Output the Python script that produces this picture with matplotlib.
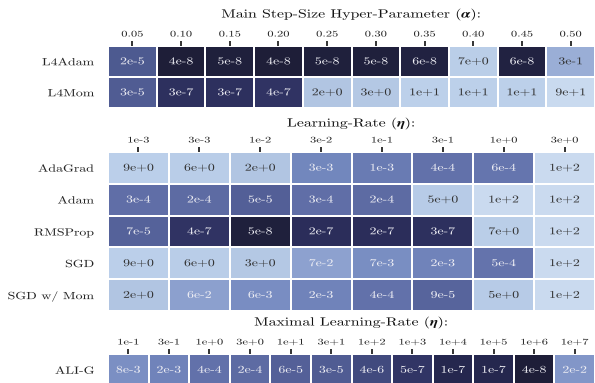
import numpy as np
import matplotlib
matplotlib.use("Agg")
import matplotlib.pyplot as plt
from matplotlib.colors import LinearSegmentedColormap, Normalize
from matplotlib.patheffects import AbstractPathEffect
from matplotlib.transforms import Affine2D

plt.rcParams["font.family"] = ["cmr10", "DejaVu Serif"]
plt.rcParams["mathtext.fontset"] = "cm"
plt.rcParams["axes.unicode_minus"] = False
plt.rcParams["axes.formatter.use_mathtext"] = True

# ---- data ----
alpha_ticks = ["0.05", "0.10", "0.15", "0.20", "0.25", "0.30", "0.35", "0.40", "0.45", "0.50"]
l4_rows = ["L4Adam", "L4Mom"]
l4adam = [2e-5, 4e-8, 5e-8, 4e-8, 5e-8, 5e-8, 6e-8, 7e+0, 6e-8, 3e-1]
l4mom = [3e-5, 3e-7, 3e-7, 4e-7, 2e+0, 3e+0, 1e+1, 1e+1, 1e+1, 9e+1]

lr_ticks = ["1e-3", "3e-3", "1e-2", "3e-2", "1e-1", "3e-1", "1e+0", "3e+0"]
opt_rows = ["AdaGrad", "Adam", "RMSProp", "SGD", "SGD w/ Mom"]
adagrad = [9e+0, 6e+0, 2e+0, 3e-3, 1e-3, 4e-4, 6e-4, 1e+2]
adam = [3e-4, 2e-4, 5e-5, 3e-4, 2e-4, 5e+0, 1e+2, 1e+2]
rmsprop = [7e-5, 4e-7, 5e-8, 2e-7, 2e-7, 3e-7, 7e+0, 1e+2]
sgd = [9e+0, 6e+0, 3e+0, 7e-2, 7e-3, 2e-3, 5e-4, 1e+2]
sgd_mom = [2e+0, 6e-2, 6e-3, 2e-3, 4e-4, 9e-5, 5e+0, 1e+2]

maxlr_ticks = ["1e-1", "3e-1", "1e+0", "3e+0", "1e+1", "3e+1", "1e+2", "1e+3",
               "1e+4", "1e+5", "1e+6", "1e+7"]
alig_rows = ["ALI-G"]
alig = [8e-3, 2e-3, 4e-4, 2e-4, 6e-5, 3e-5, 4e-6, 5e-7, 1e-7, 1e-7, 4e-8, 2e-2]

# ---- colour scale on log10 of the value ----
anchors = [
    (-7.4, "#1e1e38"), (-7.0, "#262850"), (-6.5, "#2e3160"), (-5.4, "#414a7e"),
    (-4.7, "#4d5a90"), (-4.3, "#535f97"), (-3.4, "#6271aa"), (-2.5, "#7388be"),
    (-1.7, "#8296c8"), (-0.5, "#9aaed6"), (0.3, "#b1c5e2"), (1.0, "#bcd0ea"),
    (2.0, "#cadaef"),
]
lo, hi = anchors[0][0], anchors[-1][0]
cmap = LinearSegmentedColormap.from_list(
    "loss", [((v - lo) / (hi - lo), c) for v, c in anchors])
norm = Normalize(vmin=lo, vmax=hi)


class Wide(AbstractPathEffect):
    """Draw text glyphs widened horizontally about their centre or right edge."""

    def __init__(self, sx, anchor="center"):
        super().__init__()
        self.sx = sx
        self.anchor = anchor

    def draw_path(self, renderer, gc, tpath, affine, rgbFace=None):
        ext = affine.transform_path(tpath).get_extents()
        cx = ext.x1 if self.anchor == "right" else 0.5 * (ext.x0 + ext.x1)
        t = affine + Affine2D().translate(-cx, 0).scale(self.sx, 1).translate(cx, 0)
        renderer.draw_path(gc, tpath, t, rgbFace)


def fmt(v):
    m, e = f"{v:.0e}".split("e")
    return f"{m}e{'+' if int(e) >= 0 else '-'}{abs(int(e))}"


SX = 1.33
W, H = 595, 383
fig = plt.figure(figsize=(W / 100, H / 100), dpi=100)


def panel(top, bottom, rows, data, xt, title, title_y):
    ax = fig.add_axes([108 / W, 1 - bottom / H, (W - 108) / W, (bottom - top) / H])
    arr = np.array(data, dtype=float)
    logv = np.log10(arr)
    ax.pcolormesh(logv, cmap=cmap, norm=norm, edgecolors="white", linewidth=1.1)
    ax.set_xlim(0, arr.shape[1])
    ax.set_ylim(arr.shape[0], 0)
    for i in range(arr.shape[0]):
        for j in range(arr.shape[1]):
            col = "#eeeef4" if logv[i, j] < -0.9 else "#333333"
            ax.text(j + 0.5, i + 0.5, fmt(arr[i, j]), ha="center", va="center",
                    fontsize=7.5, color=col, path_effects=[Wide(SX)])
    ax.xaxis.tick_top()
    ax.set_xticks(np.arange(arr.shape[1]) + 0.5)
    ax.set_xticklabels(xt, fontsize=6.2)
    for lab in ax.get_xticklabels():
        lab.set_path_effects([Wide(1.45)])
        lab.set_color("#222222")
    ax.tick_params(axis="x", length=3.6, width=1.2, pad=1.8, color="#111111")
    ax.set_yticks(np.arange(arr.shape[0]) + 0.5)
    ax.set_yticklabels(rows, fontsize=7.5)
    for lab in ax.get_yticklabels():
        lab.set_path_effects([Wide(SX, "right")])
        lab.set_color("#222222")
    ax.tick_params(axis="y", length=0, pad=10)
    for s in ax.spines.values():
        s.set_visible(False)
    fig.text((108 + W) / 2 / W, 1 - title_y / H, title, ha="center", va="center",
             fontsize=8.55, color="#111111", path_effects=[Wide(SX)])
    return ax


panel(46, 108, l4_rows, [l4adam, l4mom], alpha_ticks,
      r"Main Step-Size Hyper-Parameter ($\boldsymbol{\alpha}$):", 15)
panel(152, 311, opt_rows, [adagrad, adam, rmsprop, sgd, sgd_mom], lr_ticks,
      r"Learning-Rate ($\boldsymbol{\eta}$):", 124)
panel(354, 386, alig_rows, [alig], maxlr_ticks,
      r"Maximal Learning-Rate ($\boldsymbol{\eta}$):", 323)

fig.savefig("out.png", dpi=100)
